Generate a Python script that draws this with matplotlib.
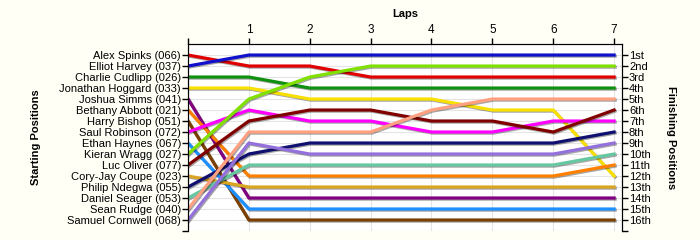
import matplotlib
matplotlib.use("Agg")
import matplotlib.pyplot as plt
import matplotlib.patheffects as pe

# riders in starting order
riders = ["Alex Spinks (066)", "Elliot Harvey (037)", "Charlie Cudlipp (026)",
          "Jonathan Hoggard (033)", "Joshua Simms (041)", "Bethany Abbott (021)",
          "Harry Bishop (051)", "Saul Robinson (072)", "Ethan Haynes (067)",
          "Kieran Wragg (027)", "Luc Oliver (077)", "Cory-Jay Coupe (023)",
          "Philip Ndegwa (055)", "Daniel Seager (053)", "Sean Rudge (040)",
          "Samuel Cornwell (068)"]

laps = [0, 1, 2, 3, 4, 5, 6, 7]

# position of each rider at the start and after each lap
positions = [
    [1, 2, 2, 3, 3, 3, 3, 3],
    [2, 1, 1, 1, 1, 1, 1, 1],
    [3, 3, 4, 4, 4, 4, 4, 4],
    [4, 4, 5, 5, 5, 6, 6, 12],
    [5, 14, 14, 14, 14, 14, 14, 14],
    [6, 12, 12, 12, 12, 12, 12, 11],
    [7, 16, 16, 16, 16, 16, 16, 16],
    [8, 6, 7, 7, 8, 8, 7, 7],
    [9, 15, 15, 15, 15, 15, 15, 15],
    [10, 5, 3, 2, 2, 2, 2, 2],
    [11, 7, 6, 6, 7, 7, 8, 6],
    [12, 13, 13, 13, 13, 13, 13, 13],
    [13, 10, 9, 9, 9, 9, 9, 8],
    [14, 11, 11, 11, 11, 11, 11, 10],
    [15, 8, 8, 8, 6, 5, 5, 5],
    [16, 9, 10, 10, 10, 10, 10, 9],
]

colors = ["#E00000", "#1010CC", "#109010", "#F8E000", "#800080", "#FF8000",
          "#7B3F00", "#FF00FF", "#1E90FF", "#80E000", "#800000", "#DAA520",
          "#101070", "#66C8A0", "#FFA080", "#9370DB"]

finish_labels = ["1st", "2nd", "3rd", "4th", "5th", "6th", "7th", "8th", "9th",
                 "10th", "11th", "12th", "13th", "14th", "15th", "16th"]

plt.rcParams["font.family"] = ["Liberation Sans", "DejaVu Sans"]

fig = plt.figure(figsize=(7, 2.4), dpi=100, facecolor="#FFFFF6")
ax = fig.add_axes([0.2686, 0.0375, 0.62, 0.779])
ax.set_facecolor("white")

for i in range(len(riders)):
    ax.plot(laps, positions[i], color=colors[i], lw=2.3, solid_joinstyle="miter",
            path_effects=[pe.SimpleLineShadow(offset=(0.8, -0.8), alpha=0.35),
                          pe.Normal()])

ax.set_xlim(0, 7.13)
ax.set_ylim(17, 0)

ax.xaxis.tick_top()
ax.xaxis.set_label_position("top")
ax.set_xticks(laps)
ax.set_xticklabels([""] + [str(l) for l in laps[1:]], fontsize=8.5)
ax.set_xlabel("Laps", fontsize=8, fontweight="bold", labelpad=5)

ax.set_yticks(range(1, 18))
ax.set_yticklabels(riders + [""], fontsize=8)
ax.set_ylabel("Starting Positions", fontsize=8, fontweight="bold", labelpad=13)

ax2 = ax.twinx()
ax2.set_ylim(17, 0)
ax2.set_yticks(range(1, 18))
ax2.set_yticklabels(finish_labels + [""], fontsize=8)
ax2.set_ylabel("Finishing Positions", fontsize=8, fontweight="bold",
               rotation=-90, labelpad=18)

for a in (ax, ax2):
    a.spines["bottom"].set_visible(False)
    a.tick_params(length=4, width=1, pad=1, colors="black")
ax.tick_params(axis="x", bottom=False, top=True, pad=2)

ax.grid(True, color="#E4E4E4", lw=0.8)
ax.set_axisbelow(True)

fig.savefig("out.png", dpi=100, facecolor=fig.get_facecolor())
